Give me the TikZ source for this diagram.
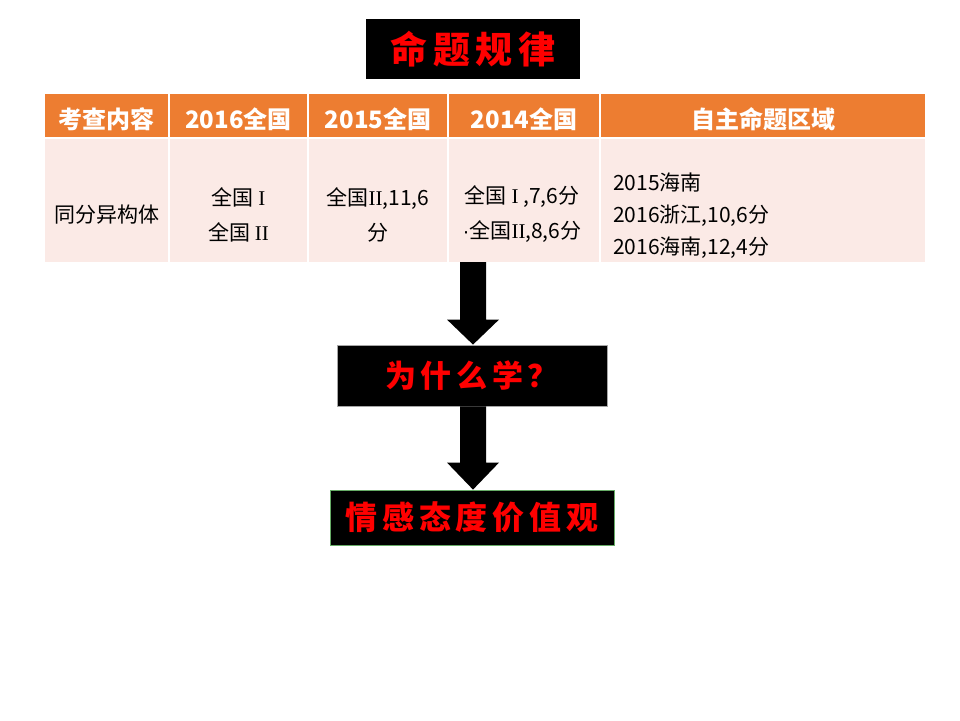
\documentclass[tikz,border=0pt]{standalone}
\usepackage{fontspec}
\setmainfont{Noto Sans CJK SC}
\newfontfamily\cjk{Noto Sans CJK SC}
\newfontfamily\cjksp[LetterSpace=15]{Noto Sans CJK SC}
\newfontfamily\rmn{Liberation Serif}
\newfontfamily\lat{Liberation Sans}
\usetikzlibrary{calc}
\definecolor{hdr}{HTML}{ED7D31}
\definecolor{cellbg}{HTML}{FBEAE6}
\definecolor{redtxt}{HTML}{FF0000}
\begin{document}
\begin{tikzpicture}[x=1pt,y=-1pt,
  blackbox/.style={fill=black,text=redtxt,inner sep=0pt},
  hcell/.style={fill=hdr,inner sep=0pt},
  htext/.style={text=white,inner sep=0pt,font=\cjk\fontsize{24}{28}\selectfont\bfseries},
  bcell/.style={fill=cellbg,inner sep=0pt},
  btext/.style={text=black,inner sep=0pt,font=\cjk\fontsize{21}{35}\selectfont,align=center},
  blockarrow/.style={fill=black}]
\useasboundingbox (0,0) rectangle (960,720);
\fill[white] (0,0) rectangle (960,720);
% title
\node[blackbox,minimum width=214pt,minimum height=60pt,font=\cjksp\fontsize{37}{40}\selectfont\bfseries] (title) at (473,49) {命题规律};
% header
\node[hcell,minimum width=123pt,minimum height=43pt] (h1) at (106.5,115.5) {};
\node[hcell,minimum width=137pt,minimum height=43pt] (h2) at (238.5,115.5) {};
\node[hcell,minimum width=138pt,minimum height=43pt] (h3) at (378,115.5) {};
\node[hcell,minimum width=150pt,minimum height=43pt] (h4) at (524,115.5) {};
\node[hcell,minimum width=324pt,minimum height=43pt] (h5) at (763,115.5) {};
\node[htext] (h1t) at ($(h1.center)+(0,4)$) {考查内容};
\node[htext] (h2t) at ($(h2.center)+(0,4)$) {2016全国};
\node[htext] (h3t) at ($(h3.center)+(0,4)$) {2015全国};
\node[htext] (h4t) at ($(h4.center)+(0,4)$) {2014全国};
\node[htext] (h5t) at ($(h5.center)+(0,4)$) {自主命题区域};
% body
\node[bcell,minimum width=123pt,minimum height=123pt] (b1) at (106.5,200.5) {};
\node[bcell,minimum width=137pt,minimum height=123pt] (b2) at (238.5,200.5) {};
\node[bcell,minimum width=138pt,minimum height=123pt] (b3) at (378,200.5) {};
\node[bcell,minimum width=150pt,minimum height=123pt] (b4) at (524,200.5) {};
\node[bcell,minimum width=324pt,minimum height=123pt] (b5) at (763,200.5) {};
\node[btext] (b1t) at ($(b1.center)+(0,14)$) {同分异构体};
\node[btext] (b2t) at ($(b2.center)+(0,14)$) {全国 {\rmn I}\\全国 {\rmn II}};
\node[btext] (b3t) at ($(b3.center)+(0,14)$) {全国{\rmn II},11,6\\分};
\node[btext] (b4t) at ($(b4.center)+(-2,14)$) {全国 {\rmn I} ,7,6分\\{\lat ·}全国{\rmn II},8,6分};
\node[btext,anchor=west,align=left,font=\cjk\fontsize{21}{32}\selectfont] (b5t) at (613,216) {2015海南\\2016浙江,10,6分\\2016海南,12,4分};
% boxes
\node[blackbox,draw=gray!70,line width=0.8pt,minimum width=270pt,minimum height=61pt,font=\cjksp\fontsize{31}{34}\selectfont\bfseries] (why) at (472,375.5) {为什么学？};
\node[blackbox,draw=green!45!black!60,line width=0.8pt,minimum width=284pt,minimum height=55pt,font=\cjksp\fontsize{32}{34}\selectfont\bfseries] (val) at (472,517.5) {情感态度价值观};
% arrows
\coordinate (a1s) at (473,262);
\coordinate (a1e) at (why.north -| a1s);
\fill[blockarrow] ($(a1s)+(-13,0)$) -- ($(a1s)+(13,0)$) -- ($(a1e)+(13,-25)$) -- ($(a1e)+(26,-25)$) -- (a1e) -- ($(a1e)+(-26,-25)$) -- ($(a1e)+(-13,-25)$) -- cycle;
\coordinate (a2s) at (why.south -| a1s);
\coordinate (a2e) at (val.north -| a1s);
\fill[blockarrow] ($(a2s)+(-13,0)$) -- ($(a2s)+(13,0)$) -- ($(a2e)+(13,-27)$) -- ($(a2e)+(26,-27)$) -- (a2e) -- ($(a2e)+(-26,-27)$) -- ($(a2e)+(-13,-27)$) -- cycle;
\end{tikzpicture}
\end{document}
